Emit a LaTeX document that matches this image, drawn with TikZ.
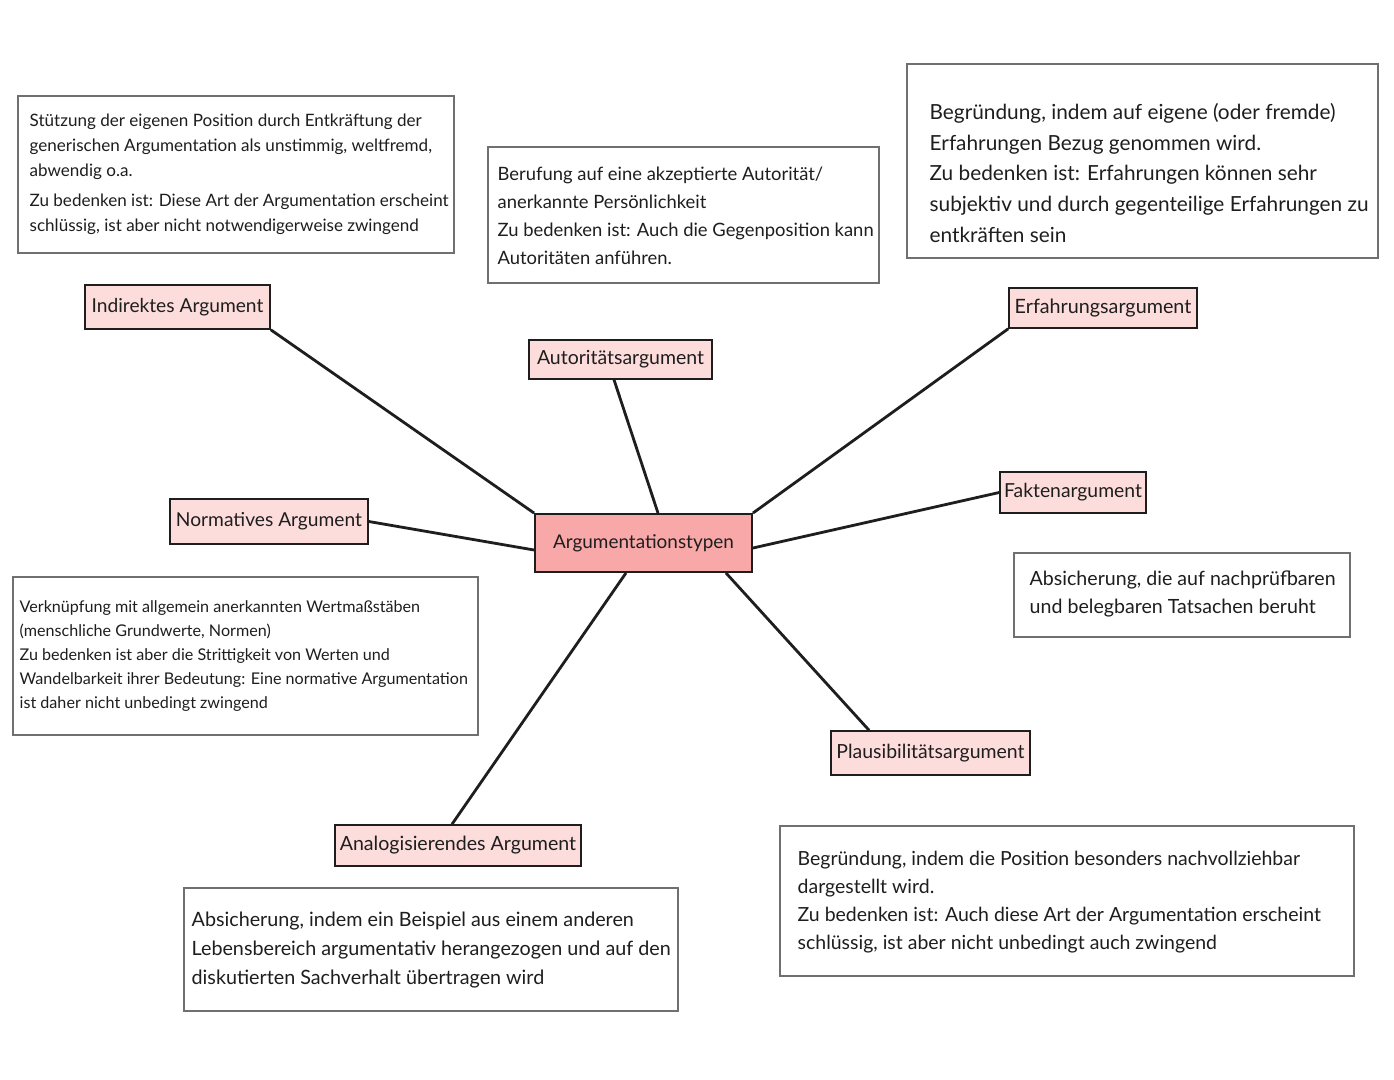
\documentclass[tikz,border=0pt]{standalone}
\usepackage{fontspec}
\setmainfont{Lato}
\usetikzlibrary{calc}
\definecolor{labelfill}{HTML}{FDDCDC}
\definecolor{centerfill}{HTML}{F8A8A8}
\definecolor{boxline}{HTML}{707070}
\definecolor{inkline}{HTML}{1E1E1E}
\tikzset{
  labelbox/.style={draw=inkline, line width=1.2pt, fill=labelfill, inner sep=0pt, text=inkline},
  centerbox/.style={draw=inkline, line width=1.4pt, fill=centerfill, inner sep=0pt, text=inkline},
  descbox/.style={draw=boxline, line width=0.9pt, inner sep=0pt},
  desctext/.style={align=left, inner sep=0pt, anchor=west, text=inkline},
  link/.style={draw=inkline, line width=2.1pt}
}
\begin{document}
\begin{tikzpicture}[x=0.75pt,y=-0.75pt]
\useasboundingbox[fill=white] (0,0) rectangle (1394,1080);

% description boxes
\node[descbox, minimum width=327pt, minimum height=117.75pt] (b1) at (236,174.5) {};
\node[desctext, font=\fontsize{12.8}{18.75}\selectfont] (t1) at ($(b1.west)+(12,0)$)
  {Stützung der eigenen Position durch Entkräftung der\\ generischen Argumentation als unstimmig, weltfremd,\\ abwendig o.a.\\[4pt] Zu bedenken ist: Diese Art der Argumentation erscheint\\ schlüssig, ist aber nicht notwendigerweise zwingend};

\node[descbox, minimum width=293.25pt, minimum height=102pt] (b2) at (683.5,215) {};
\node[desctext, font=\fontsize{13.8}{21}\selectfont] (t2) at ($(b2.west)+(10,1)$)
  {Berufung auf eine akzeptierte Autorität/\\ anerkannte Persönlichkeit\\ Zu bedenken ist: Auch die Gegenposition kann\\ Autoritäten anführen.};

\node[descbox, minimum width=353.25pt, minimum height=145.5pt] (b3) at (1142.5,161) {};
\node[desctext, font=\fontsize{15.6}{23}\selectfont] (t3) at ($(b3.west)+(23,12)$)
  {Begründung, indem auf eigene (oder fremde)\\ Erfahrungen Bezug genommen wird.\\ Zu bedenken ist: Erfahrungen können sehr\\ subjektiv und durch gegenteilige Erfahrungen zu\\ entkräften sein};

\node[descbox, minimum width=348.75pt, minimum height=118.5pt] (b4) at (245.5,656) {};
\node[desctext, font=\fontsize{12.1}{18}\selectfont] (t4) at ($(b4.west)+(7,0)$)
  {Verknüpfung mit allgemein anerkannten Wertmaßstäben\\ (menschliche Grundwerte, Normen)\\ Zu bedenken ist aber die Strittigkeit von Werten und\\ Wandelbarkeit ihrer Bedeutung: Eine normative Argumentation\\ ist daher nicht unbedingt zwingend};

\node[descbox, minimum width=252pt, minimum height=63pt] (b5) at (1182,595) {};
\node[desctext, font=\fontsize{14.7}{21}\selectfont] (t5) at ($(b5.west)+(16,-1)$)
  {Absicherung, die auf nachprüfbaren\\ und belegbaren Tatsachen beruht};

\node[descbox, minimum width=430.5pt, minimum height=112.5pt] (b6) at (1067,901) {};
\node[desctext, font=\fontsize{14.6}{21}\selectfont] (t6) at ($(b6.west)+(18,1)$)
  {Begründung, indem die Position besonders nachvollziehbar\\ dargestellt wird.\\ Zu bedenken ist: Auch diese Art der Argumentation erscheint\\ schlüssig, ist aber nicht unbedingt auch zwingend};

\node[descbox, minimum width=370.5pt, minimum height=92.25pt] (b7) at (431,949.5) {};
\node[desctext, font=\fontsize{14.8}{21.75}\selectfont] (t7) at ($(b7.west)+(8,0.5)$)
  {Absicherung, indem ein Beispiel aus einem anderen\\ Lebensbereich argumentativ herangezogen und auf den\\ diskutierten Sachverhalt übertragen wird};

% labels
\node[labelbox, minimum width=138.75pt, minimum height=33pt, font=\fontsize{14.4}{16}\selectfont] (ind) at (177.5,307) {Indirektes Argument};
\node[labelbox, minimum width=137.25pt, minimum height=29.25pt, font=\fontsize{14.6}{16}\selectfont] (aut) at (620.5,359.5) {Autoritätsargument};
\node[labelbox, minimum width=141pt, minimum height=30pt, font=\fontsize{14.8}{16}\selectfont] (erf) at (1103,308) {Erfahrungsargument};
\node[labelbox, minimum width=148.5pt, minimum height=33.75pt, font=\fontsize{14.4}{16}\selectfont] (nor) at (269,521.5) {Normatives Argument};
\node[labelbox, minimum width=109.5pt, minimum height=30.75pt, font=\fontsize{14.5}{16}\selectfont] (fak) at (1073,492.5) {Faktenargument};
\node[labelbox, minimum width=149.25pt, minimum height=33pt, font=\fontsize{14.6}{16}\selectfont] (pla) at (930.5,753) {Plausibilitätsargument};
\node[labelbox, minimum width=184.5pt, minimum height=30.75pt, font=\fontsize{14.7}{16}\selectfont] (ana) at (458,845.5) {Analogisierendes Argument};
\node[centerbox, minimum width=162.75pt, minimum height=43.5pt, font=\fontsize{14.2}{16}\selectfont] (c) at (643.5,543) {Argumentationstypen};

% connectors
\draw[link] (ind.south east) -- (c.north west);
\draw[link] ($(aut.south)+(-6.5,0)$) -- ($(c.north)+(14.5,0)$);
\draw[link] (erf.south west) -- (c.north east);
\draw[link] (nor.east) -- ($(c.west)+(0,7)$);
\draw[link] (fak.west) -- ($(c.east)+(0,5)$);
\draw[link] ($(c.south east)+(-27,0)$) -- ($(pla.north)+(-61.5,0)$);
\draw[link] ($(c.south)+(-17.5,0)$) -- ($(ana.north)+(-6,0)$);
\end{tikzpicture}
\end{document}
